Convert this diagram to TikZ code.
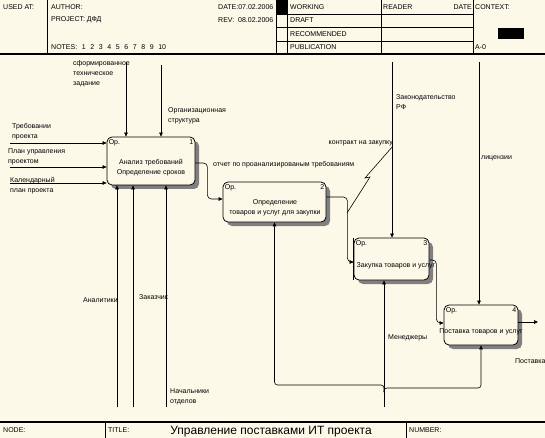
\documentclass[tikz,border=0pt]{standalone}
\usepackage{fontspec}
\setmainfont{Liberation Sans}
\usepackage{tikz}
\usetikzlibrary{positioning,arrows.meta,shadows,patterns}
\usepackage{xcolor}
\definecolor{paper}{RGB}{253,249,233}

\begin{document}
\begin{tikzpicture}[x=1pt,y=-1pt,>={Triangle[length=4pt,width=3.6pt]},
  font=\fontsize{7}{10}\selectfont,
  frame/.style={line width=0.6pt},
  arr/.style={->,line width=0.6pt},
  fn/.style={draw,line width=0.8pt,rounded corners=5pt,fill=paper,
    general shadow={shadow xshift=4pt,shadow yshift=-4pt,fill=black!50}},
  boxtext/.style={align=center,inner sep=0pt},
  tag/.style={inner xsep=2pt,inner ysep=3pt},
  lbl/.style={align=left,inner sep=0pt,anchor=north west},
  txt/.style={anchor=west,inner sep=0pt}]
\fill[paper] (0,0) rectangle (545,438);
\useasboundingbox (0,0) rectangle (545,438);

% header
\node[txt] (usedat) at (3,7) {USED AT:};
\node[txt] (author) at (51,7) {AUTHOR:};
\node[txt] (project) at (51,20) {PROJECT: ДФД};
\node[txt] (notes) at (51,47) {\spaceskip=4.6pt NOTES: 1 2 3 4 5 6 7 8 9 10};
\node[txt] (date) at (218,7) {DATE:07.02.2006};
\node[txt] (rev) at (218,20) {REV:\ \ 08.02.2006};
\node[txt] (working) at (290,7) {WORKING};
\node[txt] (draft) at (290,20) {DRAFT};
\node[txt] (recom) at (290,34) {RECOMMENDED};
\node[txt] (publ) at (290,47) {PUBLICATION};
\node[txt] (reader) at (383,7) {READER};
\node[anchor=east,inner sep=0pt] (rdate) at (472,7) {DATE};
\node[txt] (context) at (475,7) {CONTEXT:};
\node[txt] (ctxno) at (475,47) {A-0};
\foreach \x in {47,276,287,381,473} \draw[frame] (\x,0) -- (\x,54);
\foreach \y in {14,27,41} \draw[frame] (276,\y) -- (473,\y);
\fill (276,0) rectangle (287,14);
\fill (498,28) rectangle (524,39);
\draw[line width=1.4pt] (0,54) -- (545,54);

% footer
\draw[line width=1.4pt] (0,422) -- (545,422);
\draw[frame] (105,422) -- (105,438) (406,422) -- (406,438);
\node[txt] (nodef) at (3,430) {NODE:};
\node[txt] (titlef) at (108,430) {TITLE:};
\node[anchor=base,inner sep=0pt,font=\fontsize{12}{14}\selectfont] (ttl) at (271,434.5) {Управление поставками ИТ проекта};
\node[txt] (numberf) at (409,430) {NUMBER:};

% functions
\node[fn,minimum width=88pt,minimum height=48pt] (b1) at (151,161) {};
\node[fn,minimum width=103pt,minimum height=40pt] (b2) at (274.5,202) {};
\node[fn,minimum width=75pt,minimum height=42pt] (b3) at (391.5,259) {};
\node[fn,minimum width=74pt,minimum height=40pt] (b4) at (481,325) {};
\draw[line width=1.6pt] (b3.north west) -- (b3.south west);
\foreach \b/\k in {b1/1,b2/2,b3/3,b4/4} {
  \node[tag,anchor=north west] (op\k) at (\b.north west) {Ор.};
  \node[tag,anchor=north east] (no\k) at (\b.north east) {\k};
}
\node[boxtext] (t1) at (151,168) {Анализ требований\\Определение сроков};
\node[boxtext] (t2) at (275,208) {Определение\\товаров и услуг для закупки};
\node[boxtext] (t3) at (396,266) {Закупка товаров и услуг};
\node[boxtext] (t4) at (481,332) {Поставка товаров и услуг};

% inputs
\coordinate (i1) at (10,143);
\coordinate (i2) at (10,167);
\coordinate (i3) at (10,183);
\foreach \c in {i1,i2,i3} \draw[arr] (\c) -- (\c -| b1.west);
\node[lbl] (ltp) at (12,123) {Требовании\\проекта};
\node[lbl] (lpu) at (8,148) {План управления\\проектом};
\node[lbl] (lkp) at (10,177) {Календарный\\план проекта};

% controls
\coordinate (c1) at (126,62);
\coordinate (c2) at (161,65);
\coordinate (c3) at (392,62);
\coordinate (c4) at (479,62);
\draw[arr] (c1) -- (c1 |- b1.north);
\draw[arr] (c2) -- (c2 |- b1.north);
\draw[arr] (c3) -- (c3 |- b3.north);
\draw[arr] (c4) -- (c4 |- b4.north);
\node[lbl] (ltz) at (73,60) {сформированное\\техническое\\задание};
\node[lbl] (los) at (168,107) {Организационная\\структура};
\node[lbl] (lzrf) at (396,94) {Законодательство\\РФ};
\node[txt] (llic) at (481,158) {лицензии};

% mechanisms
\coordinate (m1) at (117,407);
\coordinate (m2) at (133,407);
\coordinate (m3) at (166,407);
\coordinate (m5) at (384,407);
\foreach \c in {m1,m2,m3} \draw[arr] (\c) -- (\c |- b1.south);
\draw[arr] (m5) -- (m5 |- b3.south);
\coordinate (j1) at (384,392);
\draw[arr,rounded corners=3pt] (j1) -- ++(0,-7) -| (b2.south);
\draw[arr,rounded corners=3pt] (j1) -- ++(0,-4) -| (b4.south);
\node[txt] (lan) at (83,300) {Аналитики};
\node[txt] (lzk) at (139,297) {Заказчик};
\node[lbl] (lnach) at (170,388) {Начальники\\отделов};
\node[txt] (lmen) at (388,338) {Менеджеры};

% outputs
\draw[arr,rounded corners=4pt] ([yshift=-2pt]b1.east) -- ++(12,0) |- ([yshift=3pt]b2.west);
\draw[arr,rounded corners=4pt] ([yshift=5pt]b2.east) -- ++(21,0) |- ([yshift=-3pt]b3.west);
\draw[arr,rounded corners=4pt] ([yshift=-1pt]b3.east) -- ++(7,0) |- ([yshift=2pt]b4.west);
\coordinate (o4) at (538,322);
\draw[arr] (o4 -| b4.east) -- (o4);
\node[txt] (lotch) at (213,165) {отчет по проанализированым требованиям};
\node[txt] (lpost) at (515,361) {Поставка};

% squiggle
\node[anchor=south east,inner sep=0pt] (lkz) at (393,146) {контракт на закупку};
\coordinate (sq) at (347,213);
\draw[frame] (sq) -- (370,177) -- (365,178) -- (lkz.south east);
\end{tikzpicture}
\end{document}
